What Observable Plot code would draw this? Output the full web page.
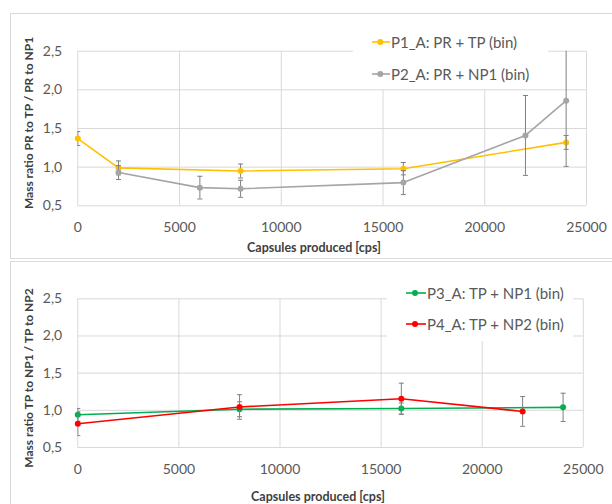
<!DOCTYPE html>
<html>
<head>
<meta charset="utf-8">
<script src="https://cdn.jsdelivr.net/npm/d3@7"></script>
<script src="https://cdn.jsdelivr.net/npm/@observablehq/plot@0.6"></script>
<style>
  html, body { margin: 0; padding: 0; background: #fff; }
  #wrap { position: relative; width: 612px; height: 504px; overflow: hidden; background: #fff; font-family: Lato, "Open Sans", sans-serif; }
  .abs { position: absolute; }
  .border { position: absolute; border: 1px solid #d9d9d9; box-sizing: border-box; }
  .ytitle { position: absolute; transform: translate(-50%, -50%) rotate(-90deg); white-space: nowrap; font-weight: bold; font-size: 12px; color: #404040; }
  .xtitle { position: absolute; transform: translate(-50%, -50%); white-space: nowrap; font-weight: bold; font-size: 12.5px; color: #404040; }
  .legbox { position: absolute; background: #fff; }
  .item { position: absolute; display: flex; align-items: center; transform: translateY(-50%); white-space: nowrap; font-size: 15px; color: #595959; }
  .item svg { display: block; }
</style>
</head>
<body>
<div id="wrap"></div>
<script>
// ---- data ----
const xTicks = [0, 5000, 10000, 15000, 20000, 25000];
const yTicks = [0.5, 1.0, 1.5, 2.0, 2.5];

const p1Name = "P1_A: PR + TP (bin)";
const p1X = [0, 2000, 8000, 16000, 24000];
const p1Y = [1.37, 0.99, 0.95, 0.98, 1.32];
const p1Err = [0.09, 0.09, 0.09, 0.08, 0.09];

const p2Name = "P2_A: PR + NP1 (bin)";
const p2X = [2000, 6000, 8000, 16000, 22000, 24000];
const p2Y = [0.93, 0.735, 0.72, 0.80, 1.41, 1.86];
const p2Err = [0.09, 0.147, 0.11, 0.155, 0.517, 0.85];

const p3Name = "P3_A: TP + NP1 (bin)";
const p3X = [0, 8000, 16000, 24000];
const p3Y = [0.94, 1.015, 1.025, 1.04];
const p3Err = [0.085, 0.1, 0.075, 0.19];

const p4Name = "P4_A: TP + NP2 (bin)";
const p4X = [0, 8000, 16000, 22000];
const p4Y = [0.82, 1.045, 1.155, 0.985];
const p4Err = [0.16, 0.165, 0.21, 0.2];

const topYTitle = "Mass ratio PR to TP / PR to NP1";
const bottomYTitle = "Mass ratio TP to NP1 / TP to NP2";
const xTitle = "Capsules produced [cps]";

// ---- helpers ----
const rows = (xs, ys, es) => xs.map((x, i) => ({x, y: ys[i], lo: ys[i] - es[i], hi: ys[i] + es[i]}));
const fmtY = d => d.toFixed(1).replace(".", ",");
const fmtX = d => String(d);
const capSymbol = {
  draw(context, size) {
    const w = Math.sqrt(size / Math.PI);
    context.moveTo(-w, 0);
    context.lineTo(w, 0);
  }
};

function seriesMarks(data, color) {
  const caps = data.flatMap(d => [{x: d.x, y: d.lo}, {x: d.x, y: d.hi}]);
  return [
    Plot.line(data, {x: "x", y: "y", stroke: color, strokeWidth: 1.6}),
    Plot.ruleX(data, {x: "x", y1: "lo", y2: "hi", stroke: "#808080", strokeWidth: 1, clip: true}),
    Plot.dot(caps, {x: "x", y: "y", symbol: capSymbol, r: 2.5, stroke: "#808080", fill: "none", strokeWidth: 1, clip: true}),
    Plot.dot(data, {x: "x", y: "y", r: 3, fill: color, stroke: "none"})
  ];
}

function panel(opts, series) {
  return Plot.plot({
    width: 612,
    height: opts.height,
    marginLeft: opts.ml,
    marginRight: opts.mr,
    marginTop: opts.mt,
    marginBottom: opts.mb,
    style: {fontFamily: "Lato, 'Open Sans', sans-serif", fontSize: "14px", color: "#595959", background: "transparent"},
    x: {domain: [0, 25000]},
    y: {domain: [0.5, 2.5]},
    marks: [
      Plot.gridX(xTicks, {stroke: "#d9d9d9", strokeOpacity: 1}),
      Plot.gridY(yTicks, {stroke: "#d9d9d9", strokeOpacity: 1}),
      Plot.axisX(xTicks, {tickSize: 0, tickPadding: 16.5, label: null, tickFormat: fmtX, fill: "#595959"}),
      Plot.axisY(yTicks, {tickSize: 0, tickPadding: 15.6, label: null, tickFormat: fmtY, fill: "#595959"}),
      ...series.flatMap(s => seriesMarks(s.data, s.color))
    ]
  });
}

const wrap = document.getElementById("wrap");

function addDiv(cls, style, text) {
  const d = document.createElement("div");
  d.className = cls;
  Object.assign(d.style, style);
  if (text != null) d.textContent = text;
  wrap.appendChild(d);
  return d;
}

function legendItem(name, color, left, top, lineW, dotX) {
  const it = addDiv("item", {left: left + "px", top: top + "px"});
  const svg = d3.create("svg").attr("width", lineW).attr("height", 8);
  svg.append("line").attr("x1", 0).attr("x2", lineW).attr("y1", 4).attr("y2", 4).attr("stroke", color).attr("stroke-width", 1.6);
  svg.append("circle").attr("cx", dotX).attr("cy", 4).attr("r", 3).attr("fill", color);
  it.appendChild(svg.node());
  const t = document.createElement("span");
  t.textContent = name;
  t.style.marginLeft = "1px";
  it.appendChild(t);
}

// ---- top panel ----
const topSeries = [
  {name: p1Name, color: "#FFC000", data: rows(p1X, p1Y, p1Err)},
  {name: p2Name, color: "#A5A5A5", data: rows(p2X, p2Y, p2Err)}
];
const topChart = panel({height: 259, ml: 77.3, mr: 26, mt: 50.7, mb: 53.7}, topSeries);
const topDiv = addDiv("abs", {left: "0px", top: "0px"});
topDiv.appendChild(topChart);

// ---- bottom panel ----
const bottomSeries = [
  {name: p3Name, color: "#00B050", data: rows(p3X, p3Y, p3Err)},
  {name: p4Name, color: "#FF0000", data: rows(p4X, p4Y, p4Err)}
];
const bottomChart = panel({height: 245, ml: 77.3, mr: 29.2, mt: 39.3, mb: 57}, bottomSeries);
const botDiv = addDiv("abs", {left: "0px", top: "259px"});
botDiv.appendChild(bottomChart);

// ---- borders ----
addDiv("border", {left: "10px", top: "13px", width: "620px", height: "246px"});
addDiv("border", {left: "10px", top: "261px", width: "620px", height: "300px"});

// ---- titles ----
addDiv("ytitle", {left: "28.3px", top: "123px"}, topYTitle);
addDiv("ytitle", {left: "28.3px", top: "378px"}, bottomYTitle);
addDiv("xtitle", {left: "314px", top: "246.7px"}, xTitle);
addDiv("xtitle", {left: "318px", top: "496px"}, xTitle);

// ---- legends ----
addDiv("legbox", {left: "353px", top: "24px", width: "195px", height: "65px"});
legendItem(topSeries[0].name, topSeries[0].color, 371.7, 42.3, 18.3, 8.3);
legendItem(topSeries[1].name, topSeries[1].color, 371.7, 74, 18.3, 8.3);

addDiv("legbox", {left: "387px", top: "276px", width: "186px", height: "64.5px"});
legendItem(bottomSeries[0].name, bottomSeries[0].color, 406, 293.3, 20, 9);
legendItem(bottomSeries[1].name, bottomSeries[1].color, 406, 324, 20, 9);
</script>
</body>
</html>
